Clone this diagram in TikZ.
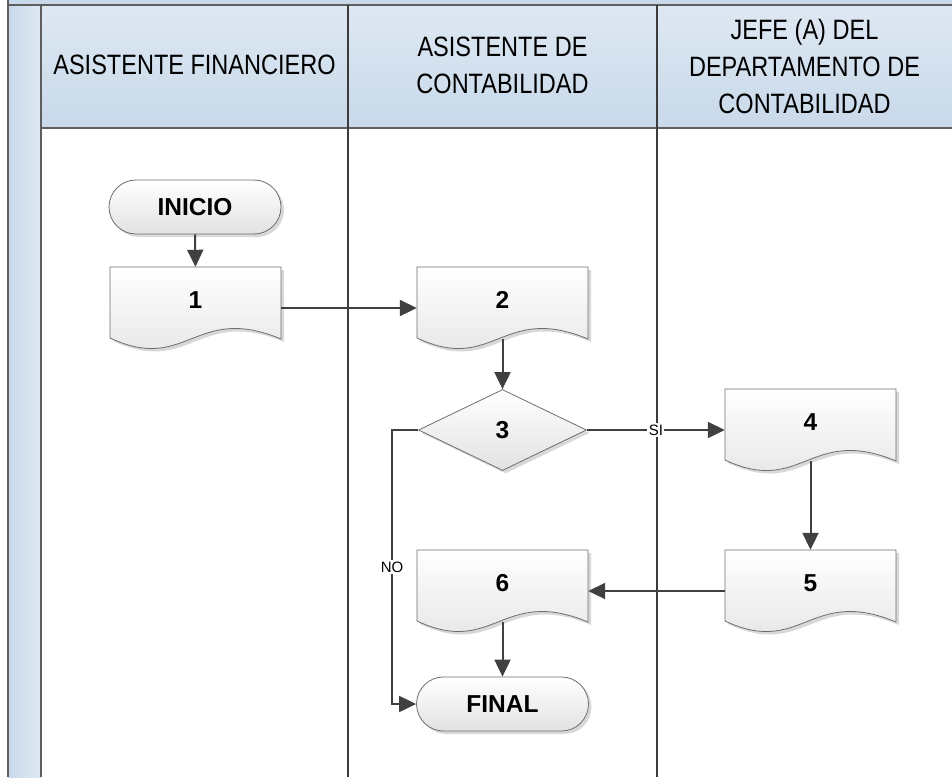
\documentclass[tikz,border=0pt]{standalone}
\usepackage{fontspec}
\setmainfont{Liberation Sans}
\newfontfamily\hdfont[FakeStretch=0.84]{Liberation Sans}
\usetikzlibrary{arrows.meta,shapes.geometric,shapes.misc,shadows}
\definecolor{hdtop}{HTML}{DEE8F2}
\definecolor{hdbot}{HTML}{C8D9EA}
\definecolor{lanegray}{HTML}{3C3C3C}
\definecolor{hdline}{HTML}{5E5E5E}
\definecolor{conngray}{HTML}{404040}
\definecolor{nodeline}{HTML}{6E6E6E}
\definecolor{nodebot}{HTML}{E2E2E2}
\definecolor{shadowgray}{HTML}{D8D8D8}
\tikzset{
  shapefill/.style={top color=white, bottom color=nodebot, draw=nodeline, line width=0.8pt},
  docshadow/.style={fill=shadowgray, draw=none, shift={(3,3)}},
  labfont/.style={font=\bfseries\fontsize{24.5}{24.5}\selectfont},
  docbox/.style={rectangle, minimum width=171pt, minimum height=82pt, inner sep=0pt,
    text height=0pt, text depth=0pt, labfont},
  nodeshadow/.style={drop shadow={shadow xshift=3pt, shadow yshift=-3pt, fill=shadowgray, opacity=1}},
  termbox/.style={rounded rectangle, minimum width=172pt, minimum height=54pt, inner sep=0pt,
    shapefill, nodeshadow, labfont},
  decbox/.style={diamond, minimum width=168pt, minimum height=81pt, inner sep=0pt,
    shapefill, nodeshadow, labfont},
  conn/.style={draw=conngray, line width=2pt, -{Triangle[length=17pt,width=16pt]}},
  flowlabel/.style={fill=white, inner sep=1.5pt, font=\fontsize{15}{15}\selectfont, text=black},
  hdr/.style={align=center, font=\hdfont\fontsize{28}{37}\selectfont},
  laneline/.style={draw=lanegray, line width=1.6pt},
  hdrline/.style={draw=hdline, line width=1.8pt},
}
\newcommand\docshape[3]{%
  \path[#1] (#2,#3) -- (#2+171,#3) -- (#2+171,#3+72)
    .. controls (#2+85,#3+36) and (#2+77,#3+107) .. (#2,#3+71) -- cycle;}
\newcommand\docnode[4]{%
  \docshape{docshadow}{#2}{#3}%
  \docshape{shapefill}{#2}{#3}%
  \node[docbox] (#1) at (#2+85.5,#3+41) {#4};}
\begin{document}
\begin{tikzpicture}[x=1pt,y=-1pt]
\useasboundingbox (0,0) rectangle (952,777);
% pool / header
\fill[hdbot] (8,0) rectangle (952,5);
\path[left color=hdbot, right color=hdtop] (8,5) rectangle (41,777);
\path[top color=hdtop, bottom color=hdbot] (41,5) rectangle (952,128);
\draw[hdrline] (8,5) -- (952,5);
\draw[hdrline] (41,128) -- (952,128);
\draw[hdrline] (8,0) -- (8,777);
\draw[hdrline] (41,5) -- (41,777);
\draw[laneline] (348,5) -- (348,777);
\draw[laneline] (657,5) -- (657,777);
\node[hdr] (h1) at (194.5,65) {ASISTENTE FINANCIERO};
\node[hdr] (h2) at (502.5,65) {ASISTENTE DE\\CONTABILIDAD};
\node[hdr] (h3) at (804.5,66) {JEFE (A) DEL\\DEPARTAMENTO DE\\CONTABILIDAD};
% nodes
\node[termbox] (ini) at (195,207) {INICIO};
\docnode{d1}{110}{267}{1}
\docnode{d2}{417}{267}{2}
\node[decbox] (d3) at (502.5,430) {3};
\docnode{d4}{725}{389}{4}
\docnode{d5}{725}{550}{5}
\docnode{d6}{417}{550}{6}
\node[termbox] (fin) at (502.5,704) {FINAL};
% connectors
\draw[conn] (ini.south) -- (d1.north);
\draw[conn] (d1.east) -- (d2.west);
\draw[conn] ([yshift=10pt]d2.south) -- (d3.north);
\draw[conn] (d3.east) -- node[flowlabel] {SI} (d4.west);
\draw[conn] (d3.west) -- ++(-26,0) |- node[flowlabel, pos=0.25] {NO} (fin.west);
\draw[conn] ([yshift=10pt]d4.south) -- (d5.north);
\draw[conn] (d5.west) -- (d6.east);
\draw[conn] ([yshift=10pt]d6.south) -- (fin.north);
\end{tikzpicture}
\end{document}
